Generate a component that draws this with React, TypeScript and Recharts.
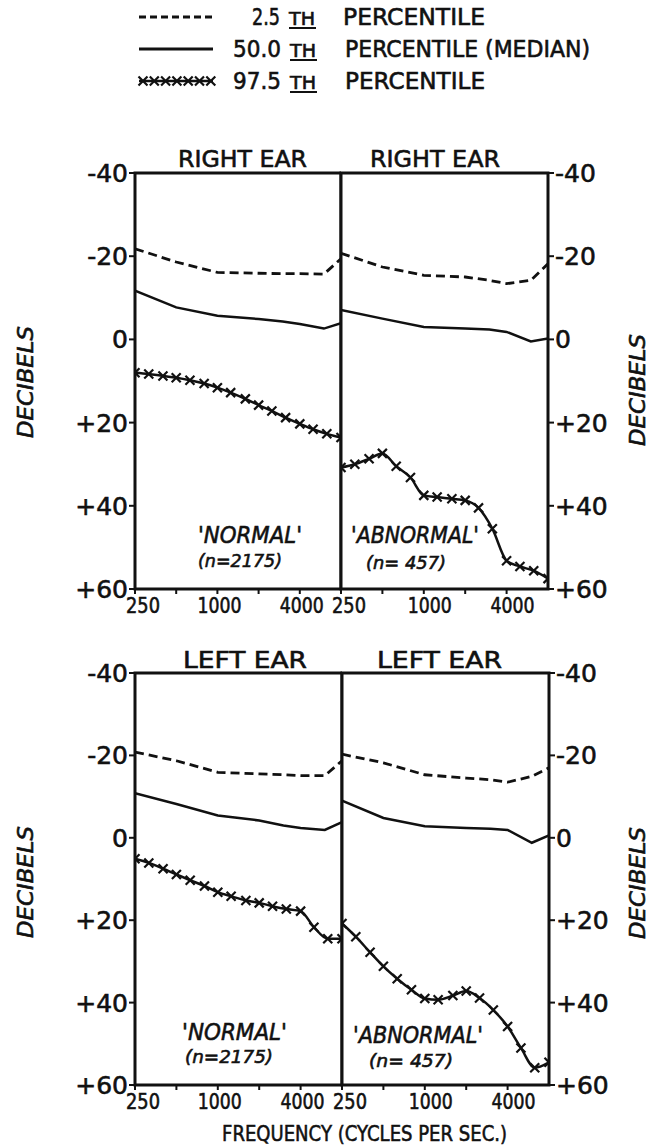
import { LineChart, Line, XAxis, YAxis, ReferenceArea } from 'recharts';

// audiometric test frequencies (2.5th and 50th percentile curves)
const audioFreqs = [250, 500, 1000, 2000, 3000, 4000, 6000, 8000];
// positions of the x-marks along the 97.5th percentile curves
const markFreqs = [250, 315, 400, 500, 630, 800, 1000, 1250, 1600, 2000, 2500, 3150, 4000, 5000, 6300, 8000];

const xTicks = [250, 500, 1000, 2000, 4000];
const xTickLabels: Record<number, string> = { 250: '250', 1000: '1000', 4000: '4000' };
const yTicks = [-40, -20, 0, 20, 40, 60];
const yTickLabels = ['-40', '-20', '0', '+20', '+40', '+60'];

const legendNumbers = ['2.5', '50.0', '97.5'];
const legendTexts = ['PERCENTILE', 'PERCENTILE (MEDIAN)', 'PERCENTILE'];
const panelTitles = ['RIGHT EAR', 'RIGHT EAR', 'LEFT EAR', 'LEFT EAR'];
const groupNames = ["'NORMAL'", "'ABNORMAL'", "'NORMAL'", "'ABNORMAL'"];
const groupSizes = ['(n=2175)', '(n= 457)', '(n=2175)', '(n= 457)'];

// right ear, 'normal'
const rightNormalLow = [-21.8, -18.6, -16.1, -15.9, -15.8, -15.8, -15.7, -19.4];
const rightNormalMed = [-11.7, -7.7, -5.7, -4.9, -4.3, -3.7, -2.6, -3.9];
const rightNormalHigh = [8.0, 8.3, 8.8, 9.2, 9.8, 10.6, 11.6, 12.8, 14.3, 15.8, 17.2, 18.8, 20.3, 21.6, 22.7, 23.6];

// right ear, 'abnormal'
const rightAbnLow = [-20.7, -17.4, -15.4, -15.0, -14.2, -13.4, -14.2, -18.2];
const rightAbnMed = [-7.1, -5.0, -3.0, -2.6, -2.4, -1.8, 0.5, -0.2];
const rightAbnHigh = [30.8, 30.0, 28.7, 27.4, 30.5, 33.2, 37.5, 37.9, 38.3, 38.7, 40.5, 45.5, 53.2, 54.6, 55.6, 57.5];

// left ear, 'normal'
const leftNormalLow = [-20.8, -18.7, -15.9, -15.5, -15.3, -15.1, -15.1, -18.7];
const leftNormalMed = [-10.8, -8.2, -5.4, -4.2, -3.0, -2.4, -1.9, -3.8];
const leftNormalHigh = [5.1, 6.1, 7.5, 8.9, 10.3, 11.7, 13.2, 14.2, 15.2, 15.8, 16.6, 17.3, 17.8, 21.7, 24.5, 24.5];

// left ear, 'abnormal'
const leftAbnLow = [-20.3, -18.2, -15.3, -14.5, -14.1, -13.5, -14.9, -17.0];
const leftAbnMed = [-9.0, -4.8, -2.8, -2.4, -2.2, -1.9, 1.2, -0.6];
const leftAbnHigh = [20.8, 24.0, 27.8, 31.2, 34.2, 36.9, 39.0, 39.3, 38.3, 37.2, 38.9, 41.8, 45.8, 51.0, 55.8, 54.5];

const FONT = '"DejaVu Sans", sans-serif';
const INK = '#111';
const TEXT_STROKE = 0.6;

const toPoints = (freqs: number[], vals: number[]) => freqs.map((f, i) => ({ freq: f, db: vals[i] }));

const rows = [
  { top: 130, plotTop: 173, plotBottom: 589, left: 135, mid: 341, right: 548 },
  { top: 630, plotTop: 673, plotBottom: 1085, left: 135, mid: 342, right: 549 },
];

const panels = [
  { row: 0, side: 'left', low: rightNormalLow, med: rightNormalMed, high: rightNormalHigh },
  { row: 0, side: 'right', low: rightAbnLow, med: rightAbnMed, high: rightAbnHigh },
  { row: 1, side: 'left', low: leftNormalLow, med: leftNormalMed, high: leftNormalHigh },
  { row: 1, side: 'right', low: leftAbnLow, med: leftAbnMed, high: leftAbnHigh },
];

function CrossDot({ cx, cy }: { cx?: number; cy?: number }) {
  if (cx == null || cy == null) return null;
  const s = 4.5;
  return (
    <path
      d={`M${cx - s},${cy - s}L${cx + s},${cy + s}M${cx - s},${cy + s}L${cx + s},${cy - s}`}
      stroke={INK}
      strokeWidth={2.2}
      fill="none"
    />
  );
}

function YTick(props: any) {
  const { x, y, payload, textAnchor } = props;
  const label = yTickLabels[yTicks.indexOf(payload.value)];
  return (
    <text x={x} y={y} dy={9} textAnchor={textAnchor} fontFamily={FONT} fontSize={25} fill={INK}
      stroke={INK} strokeWidth={TEXT_STROKE}>
      {label}
    </text>
  );
}

const makeXTick = (shift: number) => (props: any) => {
  const { x, y, payload } = props;
  const label = xTickLabels[payload.value];
  if (!label) return <g />;
  const dx = payload.value === 250 ? 8 : shift;
  return (
    <text x={x + dx} y={y} dy={16} textAnchor="middle" fontFamily={FONT} fontSize={21} fill={INK}
      stroke={INK} strokeWidth={TEXT_STROKE}
      textLength={label.length === 3 ? 34 : 44} lengthAdjust="spacingAndGlyphs">
      {label}
    </text>
  );
};

// extra room on the left of the right-hand panels so their "250" label is not clipped
const SPILL = 24;

function EarPanel({ panel }: { panel: typeof panels[number] }) {
  const r = rows[panel.row];
  const isLeft = panel.side === 'left';
  const wrapLeft = isLeft ? 0 : r.mid - SPILL;
  const width = isLeft ? r.mid : 651 - r.mid + SPILL;
  const height = r.plotBottom + 41 - r.top;
  return (
    <div style={{ position: 'absolute', left: wrapLeft, top: r.top }}>
      <LineChart
        width={width}
        height={height}
        margin={{ top: r.plotTop - r.top, right: 0, bottom: 0, left: isLeft ? 0 : SPILL }}
      >
        <XAxis
          dataKey="freq"
          type="number"
          scale="log"
          domain={[250, 8000]}
          allowDataOverflow
          ticks={xTicks}
          interval={0}
          height={41}
          axisLine={false}
          tickLine={{ stroke: INK, strokeWidth: 2 }}
          tickSize={5}
          tickMargin={3}
          tick={makeXTick(isLeft ? 2 : 6)}
        />
        <YAxis
          type="number"
          orientation={isLeft ? 'left' : 'right'}
          width={isLeft ? r.left : 651 - r.right}
          domain={[-40, 60]}
          reversed
          ticks={yTicks}
          interval={0}
          axisLine={false}
          tickLine={{ stroke: INK, strokeWidth: 2 }}
          tickSize={6}
          tickMargin={1}
          tick={<YTick />}
        />
        <ReferenceArea x1={250} x2={8000} y1={-40} y2={60} fill="none" stroke={INK} strokeWidth={3} />
        <Line
          data={toPoints(audioFreqs, panel.low)}
          dataKey="db"
          type="linear"
          stroke={INK}
          strokeWidth={2.8}
          strokeDasharray="9 5"
          dot={false}
          isAnimationActive={false}
        />
        <Line
          data={toPoints(audioFreqs, panel.med)}
          dataKey="db"
          type="linear"
          stroke={INK}
          strokeWidth={2.5}
          dot={false}
          isAnimationActive={false}
        />
        <Line
          data={toPoints(markFreqs, panel.high)}
          dataKey="db"
          type="monotone"
          stroke={INK}
          strokeWidth={2.5}
          dot={(p: any) => <CrossDot key={`m-${p.index}`} cx={p.cx} cy={p.cy} />}
          isAnimationActive={false}
        />
      </LineChart>
    </div>
  );
}

const legendRowY = [17, 49, 81];
const legendNumX = [252, 233, 233];
const legendNumW = [28, 48, 48];
const legendTextX = [343, 345, 345];
const legendTextW = [142, 245, 140];

const titleX = [178, 370, 183, 377];
const titleW = [129, 130, 124, 125];
const nameX = [198, 351, 182, 353];
const nameW = [104, 128, 105, 130];
const nameY = [543, 543, 1040, 1043];
const sizeX = [198, 366, 185, 369];
const sizeW = [84, 80, 88, 84];
const sizeY = [567, 569, 1063, 1067];

function Overlay() {
  return (
    <svg width={651} height={1146} style={{ position: 'absolute', left: 0, top: 0, pointerEvents: 'none' }}
      fontFamily={FONT} fill={INK} stroke={INK} strokeWidth={TEXT_STROKE}>
      {/* legend */}
      <line x1={139} x2={213} y1={legendRowY[0]} y2={legendRowY[0]} strokeWidth={2.8} strokeDasharray="7 4" />
      <line x1={139} x2={213} y1={legendRowY[1]} y2={legendRowY[1]} strokeWidth={2.8} />
      <line x1={139} x2={213} y1={legendRowY[2]} y2={legendRowY[2]} strokeWidth={2.4} />
      {[0, 1, 2, 3, 4, 5, 6].map((k) => (
        <CrossDot key={k} cx={143 + k * 11.3} cy={legendRowY[2]} />
      ))}
      {legendRowY.map((y, i) => (
        <g key={i}>
          <text x={legendNumX[i]} y={y + 8} fontSize={23} textLength={legendNumW[i]} lengthAdjust="spacingAndGlyphs">
            {legendNumbers[i]}
          </text>
          <text x={legendNumX[i] + legendNumW[i] + 9} y={y + 8} fontSize={17} textLength={26} lengthAdjust="spacingAndGlyphs">
            TH
          </text>
          <line x1={legendNumX[i] + legendNumW[i] + 9} x2={legendNumX[i] + legendNumW[i] + 36} y1={y + 11} y2={y + 11}
            strokeWidth={2} />
          <text x={legendTextX[i]} y={y + 8} fontSize={23} textLength={legendTextW[i]} lengthAdjust="spacingAndGlyphs">
            {legendTexts[i]}
          </text>
        </g>
      ))}

      {/* panel titles and group labels */}
      {panelTitles.map((t, i) => (
        <text key={`t${i}`} x={titleX[i]} y={i < 2 ? 167 : 668} fontSize={23} textLength={titleW[i]}
          lengthAdjust="spacingAndGlyphs">
          {t}
        </text>
      ))}
      {groupNames.map((t, i) => (
        <text key={`g${i}`} x={nameX[i]} y={nameY[i]} fontSize={23} fontStyle="italic" textLength={nameW[i]}
          lengthAdjust="spacingAndGlyphs">
          {t}
        </text>
      ))}
      {groupSizes.map((t, i) => (
        <text key={`n${i}`} x={sizeX[i]} y={sizeY[i]} fontSize={18} fontStyle="italic" textLength={sizeW[i]}
          lengthAdjust="spacingAndGlyphs">
          {t}
        </text>
      ))}

      {/* axis titles */}
      {[
        [25, 382],
        [25, 882],
        [637, 390],
        [637, 883],
      ].map(([x, y], i) => (
        <text key={`d${i}`} x={x} y={y} transform={`rotate(-90 ${x} ${y})`} dy={8} textAnchor="middle" fontSize={22}
          fontStyle="italic" textLength={112} lengthAdjust="spacingAndGlyphs">
          DECIBELS
        </text>
      ))}
      <text x={222} y={1141} fontSize={22} textLength={285} lengthAdjust="spacingAndGlyphs">
        FREQUENCY (CYCLES PER SEC.)
      </text>
    </svg>
  );
}

export default function App() {
  return (
    <div style={{ position: 'absolute', left: 0, top: 0, width: 651, height: 1146, background: '#fff' }}>
      {panels.map((p, i) => (
        <EarPanel key={i} panel={p} />
      ))}
      <Overlay />
    </div>
  );
}
